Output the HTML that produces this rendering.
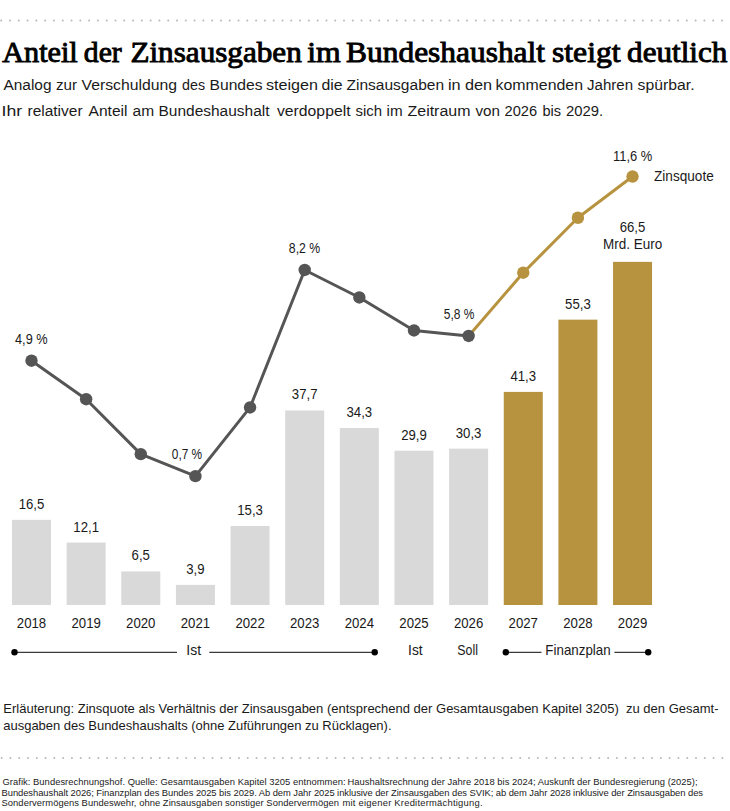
<!DOCTYPE html><html><head><meta charset="utf-8"><style>html,body{margin:0;padding:0;background:#fff;width:730px;height:811px;overflow:hidden}svg{display:block}</style></head><body><svg class="s" width="730" height="811" viewBox="0 0 730 811">
<circle cx="1.20" cy="20.5" r="1" fill="#b8b8b8"/><circle cx="9.99" cy="20.5" r="1" fill="#b8b8b8"/><circle cx="18.78" cy="20.5" r="1" fill="#b8b8b8"/><circle cx="27.57" cy="20.5" r="1" fill="#b8b8b8"/><circle cx="36.36" cy="20.5" r="1" fill="#b8b8b8"/><circle cx="45.15" cy="20.5" r="1" fill="#b8b8b8"/><circle cx="53.94" cy="20.5" r="1" fill="#b8b8b8"/><circle cx="62.73" cy="20.5" r="1" fill="#b8b8b8"/><circle cx="71.52" cy="20.5" r="1" fill="#b8b8b8"/><circle cx="80.31" cy="20.5" r="1" fill="#b8b8b8"/><circle cx="89.10" cy="20.5" r="1" fill="#b8b8b8"/><circle cx="97.89" cy="20.5" r="1" fill="#b8b8b8"/><circle cx="106.68" cy="20.5" r="1" fill="#b8b8b8"/><circle cx="115.47" cy="20.5" r="1" fill="#b8b8b8"/><circle cx="124.26" cy="20.5" r="1" fill="#b8b8b8"/><circle cx="133.05" cy="20.5" r="1" fill="#b8b8b8"/><circle cx="141.84" cy="20.5" r="1" fill="#b8b8b8"/><circle cx="150.63" cy="20.5" r="1" fill="#b8b8b8"/><circle cx="159.42" cy="20.5" r="1" fill="#b8b8b8"/><circle cx="168.21" cy="20.5" r="1" fill="#b8b8b8"/><circle cx="177.00" cy="20.5" r="1" fill="#b8b8b8"/><circle cx="185.79" cy="20.5" r="1" fill="#b8b8b8"/><circle cx="194.58" cy="20.5" r="1" fill="#b8b8b8"/><circle cx="203.37" cy="20.5" r="1" fill="#b8b8b8"/><circle cx="212.16" cy="20.5" r="1" fill="#b8b8b8"/><circle cx="220.95" cy="20.5" r="1" fill="#b8b8b8"/><circle cx="229.74" cy="20.5" r="1" fill="#b8b8b8"/><circle cx="238.53" cy="20.5" r="1" fill="#b8b8b8"/><circle cx="247.32" cy="20.5" r="1" fill="#b8b8b8"/><circle cx="256.11" cy="20.5" r="1" fill="#b8b8b8"/><circle cx="264.90" cy="20.5" r="1" fill="#b8b8b8"/><circle cx="273.69" cy="20.5" r="1" fill="#b8b8b8"/><circle cx="282.48" cy="20.5" r="1" fill="#b8b8b8"/><circle cx="291.27" cy="20.5" r="1" fill="#b8b8b8"/><circle cx="300.06" cy="20.5" r="1" fill="#b8b8b8"/><circle cx="308.85" cy="20.5" r="1" fill="#b8b8b8"/><circle cx="317.64" cy="20.5" r="1" fill="#b8b8b8"/><circle cx="326.43" cy="20.5" r="1" fill="#b8b8b8"/><circle cx="335.22" cy="20.5" r="1" fill="#b8b8b8"/><circle cx="344.01" cy="20.5" r="1" fill="#b8b8b8"/><circle cx="352.80" cy="20.5" r="1" fill="#b8b8b8"/><circle cx="361.59" cy="20.5" r="1" fill="#b8b8b8"/><circle cx="370.38" cy="20.5" r="1" fill="#b8b8b8"/><circle cx="379.17" cy="20.5" r="1" fill="#b8b8b8"/><circle cx="387.96" cy="20.5" r="1" fill="#b8b8b8"/><circle cx="396.75" cy="20.5" r="1" fill="#b8b8b8"/><circle cx="405.54" cy="20.5" r="1" fill="#b8b8b8"/><circle cx="414.33" cy="20.5" r="1" fill="#b8b8b8"/><circle cx="423.12" cy="20.5" r="1" fill="#b8b8b8"/><circle cx="431.91" cy="20.5" r="1" fill="#b8b8b8"/><circle cx="440.70" cy="20.5" r="1" fill="#b8b8b8"/><circle cx="449.49" cy="20.5" r="1" fill="#b8b8b8"/><circle cx="458.28" cy="20.5" r="1" fill="#b8b8b8"/><circle cx="467.07" cy="20.5" r="1" fill="#b8b8b8"/><circle cx="475.86" cy="20.5" r="1" fill="#b8b8b8"/><circle cx="484.65" cy="20.5" r="1" fill="#b8b8b8"/><circle cx="493.44" cy="20.5" r="1" fill="#b8b8b8"/><circle cx="502.23" cy="20.5" r="1" fill="#b8b8b8"/><circle cx="511.02" cy="20.5" r="1" fill="#b8b8b8"/><circle cx="519.81" cy="20.5" r="1" fill="#b8b8b8"/><circle cx="528.60" cy="20.5" r="1" fill="#b8b8b8"/><circle cx="537.39" cy="20.5" r="1" fill="#b8b8b8"/><circle cx="546.18" cy="20.5" r="1" fill="#b8b8b8"/><circle cx="554.97" cy="20.5" r="1" fill="#b8b8b8"/><circle cx="563.76" cy="20.5" r="1" fill="#b8b8b8"/><circle cx="572.55" cy="20.5" r="1" fill="#b8b8b8"/><circle cx="581.34" cy="20.5" r="1" fill="#b8b8b8"/><circle cx="590.13" cy="20.5" r="1" fill="#b8b8b8"/><circle cx="598.92" cy="20.5" r="1" fill="#b8b8b8"/><circle cx="607.71" cy="20.5" r="1" fill="#b8b8b8"/><circle cx="616.50" cy="20.5" r="1" fill="#b8b8b8"/><circle cx="625.29" cy="20.5" r="1" fill="#b8b8b8"/><circle cx="634.08" cy="20.5" r="1" fill="#b8b8b8"/><circle cx="642.87" cy="20.5" r="1" fill="#b8b8b8"/><circle cx="651.66" cy="20.5" r="1" fill="#b8b8b8"/><circle cx="660.45" cy="20.5" r="1" fill="#b8b8b8"/><circle cx="669.24" cy="20.5" r="1" fill="#b8b8b8"/><circle cx="678.03" cy="20.5" r="1" fill="#b8b8b8"/><circle cx="686.82" cy="20.5" r="1" fill="#b8b8b8"/><circle cx="695.61" cy="20.5" r="1" fill="#b8b8b8"/><circle cx="704.40" cy="20.5" r="1" fill="#b8b8b8"/><circle cx="713.19" cy="20.5" r="1" fill="#b8b8b8"/><circle cx="721.98" cy="20.5" r="1" fill="#b8b8b8"/>
<circle cx="1.60" cy="758" r="1" fill="#b8b8b8"/><circle cx="10.39" cy="758" r="1" fill="#b8b8b8"/><circle cx="19.18" cy="758" r="1" fill="#b8b8b8"/><circle cx="27.97" cy="758" r="1" fill="#b8b8b8"/><circle cx="36.76" cy="758" r="1" fill="#b8b8b8"/><circle cx="45.55" cy="758" r="1" fill="#b8b8b8"/><circle cx="54.34" cy="758" r="1" fill="#b8b8b8"/><circle cx="63.13" cy="758" r="1" fill="#b8b8b8"/><circle cx="71.92" cy="758" r="1" fill="#b8b8b8"/><circle cx="80.71" cy="758" r="1" fill="#b8b8b8"/><circle cx="89.50" cy="758" r="1" fill="#b8b8b8"/><circle cx="98.29" cy="758" r="1" fill="#b8b8b8"/><circle cx="107.08" cy="758" r="1" fill="#b8b8b8"/><circle cx="115.87" cy="758" r="1" fill="#b8b8b8"/><circle cx="124.66" cy="758" r="1" fill="#b8b8b8"/><circle cx="133.45" cy="758" r="1" fill="#b8b8b8"/><circle cx="142.24" cy="758" r="1" fill="#b8b8b8"/><circle cx="151.03" cy="758" r="1" fill="#b8b8b8"/><circle cx="159.82" cy="758" r="1" fill="#b8b8b8"/><circle cx="168.61" cy="758" r="1" fill="#b8b8b8"/><circle cx="177.40" cy="758" r="1" fill="#b8b8b8"/><circle cx="186.19" cy="758" r="1" fill="#b8b8b8"/><circle cx="194.98" cy="758" r="1" fill="#b8b8b8"/><circle cx="203.77" cy="758" r="1" fill="#b8b8b8"/><circle cx="212.56" cy="758" r="1" fill="#b8b8b8"/><circle cx="221.35" cy="758" r="1" fill="#b8b8b8"/><circle cx="230.14" cy="758" r="1" fill="#b8b8b8"/><circle cx="238.93" cy="758" r="1" fill="#b8b8b8"/><circle cx="247.72" cy="758" r="1" fill="#b8b8b8"/><circle cx="256.51" cy="758" r="1" fill="#b8b8b8"/><circle cx="265.30" cy="758" r="1" fill="#b8b8b8"/><circle cx="274.09" cy="758" r="1" fill="#b8b8b8"/><circle cx="282.88" cy="758" r="1" fill="#b8b8b8"/><circle cx="291.67" cy="758" r="1" fill="#b8b8b8"/><circle cx="300.46" cy="758" r="1" fill="#b8b8b8"/><circle cx="309.25" cy="758" r="1" fill="#b8b8b8"/><circle cx="318.04" cy="758" r="1" fill="#b8b8b8"/><circle cx="326.83" cy="758" r="1" fill="#b8b8b8"/><circle cx="335.62" cy="758" r="1" fill="#b8b8b8"/><circle cx="344.41" cy="758" r="1" fill="#b8b8b8"/><circle cx="353.20" cy="758" r="1" fill="#b8b8b8"/><circle cx="361.99" cy="758" r="1" fill="#b8b8b8"/><circle cx="370.78" cy="758" r="1" fill="#b8b8b8"/><circle cx="379.57" cy="758" r="1" fill="#b8b8b8"/><circle cx="388.36" cy="758" r="1" fill="#b8b8b8"/><circle cx="397.15" cy="758" r="1" fill="#b8b8b8"/><circle cx="405.94" cy="758" r="1" fill="#b8b8b8"/><circle cx="414.73" cy="758" r="1" fill="#b8b8b8"/><circle cx="423.52" cy="758" r="1" fill="#b8b8b8"/><circle cx="432.31" cy="758" r="1" fill="#b8b8b8"/><circle cx="441.10" cy="758" r="1" fill="#b8b8b8"/><circle cx="449.89" cy="758" r="1" fill="#b8b8b8"/><circle cx="458.68" cy="758" r="1" fill="#b8b8b8"/><circle cx="467.47" cy="758" r="1" fill="#b8b8b8"/><circle cx="476.26" cy="758" r="1" fill="#b8b8b8"/><circle cx="485.05" cy="758" r="1" fill="#b8b8b8"/><circle cx="493.84" cy="758" r="1" fill="#b8b8b8"/><circle cx="502.63" cy="758" r="1" fill="#b8b8b8"/><circle cx="511.42" cy="758" r="1" fill="#b8b8b8"/><circle cx="520.21" cy="758" r="1" fill="#b8b8b8"/><circle cx="529.00" cy="758" r="1" fill="#b8b8b8"/><circle cx="537.79" cy="758" r="1" fill="#b8b8b8"/><circle cx="546.58" cy="758" r="1" fill="#b8b8b8"/><circle cx="555.37" cy="758" r="1" fill="#b8b8b8"/><circle cx="564.16" cy="758" r="1" fill="#b8b8b8"/><circle cx="572.95" cy="758" r="1" fill="#b8b8b8"/><circle cx="581.74" cy="758" r="1" fill="#b8b8b8"/><circle cx="590.53" cy="758" r="1" fill="#b8b8b8"/><circle cx="599.32" cy="758" r="1" fill="#b8b8b8"/><circle cx="608.11" cy="758" r="1" fill="#b8b8b8"/><circle cx="616.90" cy="758" r="1" fill="#b8b8b8"/><circle cx="625.69" cy="758" r="1" fill="#b8b8b8"/><circle cx="634.48" cy="758" r="1" fill="#b8b8b8"/><circle cx="643.27" cy="758" r="1" fill="#b8b8b8"/><circle cx="652.06" cy="758" r="1" fill="#b8b8b8"/><circle cx="660.85" cy="758" r="1" fill="#b8b8b8"/><circle cx="669.64" cy="758" r="1" fill="#b8b8b8"/><circle cx="678.43" cy="758" r="1" fill="#b8b8b8"/><circle cx="687.22" cy="758" r="1" fill="#b8b8b8"/><circle cx="696.01" cy="758" r="1" fill="#b8b8b8"/><circle cx="704.80" cy="758" r="1" fill="#b8b8b8"/><circle cx="713.59" cy="758" r="1" fill="#b8b8b8"/><circle cx="722.38" cy="758" r="1" fill="#b8b8b8"/>
<text class="t" x="2.20" y="62" font-family="Liberation Serif" font-weight="normal" font-size="29" fill="#000" style="stroke:#000;stroke-width:0.9px" textLength="75.60" lengthAdjust="spacingAndGlyphs">Anteil</text>
<text class="t" x="83.80" y="62" font-family="Liberation Serif" font-weight="normal" font-size="29" fill="#000" style="stroke:#000;stroke-width:0.9px" textLength="37.90" lengthAdjust="spacingAndGlyphs">der</text>
<text class="t" x="130.40" y="62" font-family="Liberation Serif" font-weight="normal" font-size="29" fill="#000" style="stroke:#000;stroke-width:0.9px" textLength="171.40" lengthAdjust="spacingAndGlyphs">Zinsausgaben</text>
<text class="t" x="307.20" y="62" font-family="Liberation Serif" font-weight="normal" font-size="29" fill="#000" style="stroke:#000;stroke-width:0.9px" textLength="33.50" lengthAdjust="spacingAndGlyphs">im</text>
<text class="t" x="346.10" y="62" font-family="Liberation Serif" font-weight="normal" font-size="29" fill="#000" style="stroke:#000;stroke-width:0.9px" textLength="198.90" lengthAdjust="spacingAndGlyphs">Bundeshaushalt</text>
<text class="t" x="552.00" y="62" font-family="Liberation Serif" font-weight="normal" font-size="29" fill="#000" style="stroke:#000;stroke-width:0.9px" textLength="68.60" lengthAdjust="spacingAndGlyphs">steigt</text>
<text class="t" x="627.10" y="62" font-family="Liberation Serif" font-weight="normal" font-size="29" fill="#000" style="stroke:#000;stroke-width:0.9px" textLength="100.30" lengthAdjust="spacingAndGlyphs">deutlich</text>
<text class="sub" x="3.50" y="90" font-family="Liberation Sans" font-size="15.3" fill="#1a1a1a" textLength="48.01" lengthAdjust="spacingAndGlyphs">Analog</text>
<text class="sub" x="56.00" y="90" font-family="Liberation Sans" font-size="15.3" fill="#1a1a1a" textLength="21.03" lengthAdjust="spacingAndGlyphs">zur</text>
<text class="sub" x="81.50" y="90" font-family="Liberation Sans" font-size="15.3" fill="#1a1a1a" textLength="95.52" lengthAdjust="spacingAndGlyphs">Verschuldung</text>
<text class="sub" x="182.00" y="90" font-family="Liberation Sans" font-size="15.3" fill="#1a1a1a" textLength="23.04" lengthAdjust="spacingAndGlyphs">des</text>
<text class="sub" x="209.50" y="90" font-family="Liberation Sans" font-size="15.3" fill="#1a1a1a" textLength="53.10" lengthAdjust="spacingAndGlyphs">Bundes</text>
<text class="sub" x="266.00" y="90" font-family="Liberation Sans" font-size="15.3" fill="#1a1a1a" textLength="52.05" lengthAdjust="spacingAndGlyphs">steigen</text>
<text class="sub" x="321.50" y="90" font-family="Liberation Sans" font-size="15.3" fill="#1a1a1a" textLength="21.11" lengthAdjust="spacingAndGlyphs">die</text>
<text class="sub" x="346.50" y="90" font-family="Liberation Sans" font-size="15.3" fill="#1a1a1a" textLength="97.54" lengthAdjust="spacingAndGlyphs">Zinsausgaben</text>
<text class="sub" x="448.00" y="90" font-family="Liberation Sans" font-size="15.3" fill="#1a1a1a" textLength="12.66" lengthAdjust="spacingAndGlyphs">in</text>
<text class="sub" x="465.00" y="90" font-family="Liberation Sans" font-size="15.3" fill="#1a1a1a" textLength="27.14" lengthAdjust="spacingAndGlyphs">den</text>
<text class="sub" x="495.50" y="90" font-family="Liberation Sans" font-size="15.3" fill="#1a1a1a" textLength="87.54" lengthAdjust="spacingAndGlyphs">kommenden</text>
<text class="sub" x="587.00" y="90" font-family="Liberation Sans" font-size="15.3" fill="#1a1a1a" textLength="46.01" lengthAdjust="spacingAndGlyphs">Jahren</text>
<text class="sub" x="637.50" y="90" font-family="Liberation Sans" font-size="15.3" fill="#1a1a1a" textLength="57.03" lengthAdjust="spacingAndGlyphs">spürbar.</text>
<text class="sub" x="1.50" y="116" font-family="Liberation Sans" font-size="15.3" fill="#1a1a1a" textLength="20.61" lengthAdjust="spacingAndGlyphs">Ihr</text>
<text class="sub" x="27.50" y="116" font-family="Liberation Sans" font-size="15.3" fill="#1a1a1a" textLength="55.03" lengthAdjust="spacingAndGlyphs">relativer</text>
<text class="sub" x="88.50" y="116" font-family="Liberation Sans" font-size="15.3" fill="#1a1a1a" textLength="39.02" lengthAdjust="spacingAndGlyphs">Anteil</text>
<text class="sub" x="132.50" y="116" font-family="Liberation Sans" font-size="15.3" fill="#1a1a1a" textLength="21.58" lengthAdjust="spacingAndGlyphs">am</text>
<text class="sub" x="158.50" y="116" font-family="Liberation Sans" font-size="15.3" fill="#1a1a1a" textLength="111.01" lengthAdjust="spacingAndGlyphs">Bundeshaushalt</text>
<text class="sub" x="277.00" y="116" font-family="Liberation Sans" font-size="15.3" fill="#1a1a1a" textLength="73.51" lengthAdjust="spacingAndGlyphs">verdoppelt</text>
<text class="sub" x="355.50" y="116" font-family="Liberation Sans" font-size="15.3" fill="#1a1a1a" textLength="26.56" lengthAdjust="spacingAndGlyphs">sich</text>
<text class="sub" x="386.50" y="116" font-family="Liberation Sans" font-size="15.3" fill="#1a1a1a" textLength="16.10" lengthAdjust="spacingAndGlyphs">im</text>
<text class="sub" x="407.50" y="116" font-family="Liberation Sans" font-size="15.3" fill="#1a1a1a" textLength="63.02" lengthAdjust="spacingAndGlyphs">Zeitraum</text>
<text class="sub" x="475.50" y="116" font-family="Liberation Sans" font-size="15.3" fill="#1a1a1a" textLength="24.50" lengthAdjust="spacingAndGlyphs">von</text>
<text class="sub" x="504.50" y="116" font-family="Liberation Sans" font-size="15.3" fill="#1a1a1a" textLength="32.59" lengthAdjust="spacingAndGlyphs">2026</text>
<text class="sub" x="542.50" y="116" font-family="Liberation Sans" font-size="15.3" fill="#1a1a1a" textLength="18.62" lengthAdjust="spacingAndGlyphs">bis</text>
<text class="sub" x="566.00" y="116" font-family="Liberation Sans" font-size="15.3" fill="#1a1a1a" textLength="37.09" lengthAdjust="spacingAndGlyphs">2029.</text>
<rect x="12.00" y="519.86" width="39" height="85.14" fill="#d9d9d9"/>
<text class="lab" transform="translate(31.50 508.86) scale(1 1.045)" text-anchor="middle" font-family="Liberation Sans" font-size="13.2" fill="#1a1a1a">16,5</text>
<text class="lab" transform="translate(31.50 628.30) scale(1 1.045)" text-anchor="middle" font-family="Liberation Sans" font-size="13.2" fill="#1a1a1a">2018</text>
<rect x="66.64" y="542.56" width="39" height="62.44" fill="#d9d9d9"/>
<text class="lab" transform="translate(86.14 531.56) scale(1 1.045)" text-anchor="middle" font-family="Liberation Sans" font-size="13.2" fill="#1a1a1a">12,1</text>
<text class="lab" transform="translate(86.14 628.30) scale(1 1.045)" text-anchor="middle" font-family="Liberation Sans" font-size="13.2" fill="#1a1a1a">2019</text>
<rect x="121.28" y="571.46" width="39" height="33.54" fill="#d9d9d9"/>
<text class="lab" transform="translate(140.78 560.46) scale(1 1.045)" text-anchor="middle" font-family="Liberation Sans" font-size="13.2" fill="#1a1a1a">6,5</text>
<text class="lab" transform="translate(140.78 628.30) scale(1 1.045)" text-anchor="middle" font-family="Liberation Sans" font-size="13.2" fill="#1a1a1a">2020</text>
<rect x="175.92" y="584.88" width="39" height="20.12" fill="#d9d9d9"/>
<text class="lab" transform="translate(195.42 573.88) scale(1 1.045)" text-anchor="middle" font-family="Liberation Sans" font-size="13.2" fill="#1a1a1a">3,9</text>
<text class="lab" transform="translate(195.42 628.30) scale(1 1.045)" text-anchor="middle" font-family="Liberation Sans" font-size="13.2" fill="#1a1a1a">2021</text>
<rect x="230.56" y="526.05" width="39" height="78.95" fill="#d9d9d9"/>
<text class="lab" transform="translate(250.06 515.05) scale(1 1.045)" text-anchor="middle" font-family="Liberation Sans" font-size="13.2" fill="#1a1a1a">15,3</text>
<text class="lab" transform="translate(250.06 628.30) scale(1 1.045)" text-anchor="middle" font-family="Liberation Sans" font-size="13.2" fill="#1a1a1a">2022</text>
<rect x="285.20" y="410.47" width="39" height="194.53" fill="#d9d9d9"/>
<text class="lab" transform="translate(304.70 399.47) scale(1 1.045)" text-anchor="middle" font-family="Liberation Sans" font-size="13.2" fill="#1a1a1a">37,7</text>
<text class="lab" transform="translate(304.70 628.30) scale(1 1.045)" text-anchor="middle" font-family="Liberation Sans" font-size="13.2" fill="#1a1a1a">2023</text>
<rect x="339.84" y="428.01" width="39" height="176.99" fill="#d9d9d9"/>
<text class="lab" transform="translate(359.34 417.01) scale(1 1.045)" text-anchor="middle" font-family="Liberation Sans" font-size="13.2" fill="#1a1a1a">34,3</text>
<text class="lab" transform="translate(359.34 628.30) scale(1 1.045)" text-anchor="middle" font-family="Liberation Sans" font-size="13.2" fill="#1a1a1a">2024</text>
<rect x="394.48" y="450.72" width="39" height="154.28" fill="#d9d9d9"/>
<text class="lab" transform="translate(413.98 439.72) scale(1 1.045)" text-anchor="middle" font-family="Liberation Sans" font-size="13.2" fill="#1a1a1a">29,9</text>
<text class="lab" transform="translate(413.98 628.30) scale(1 1.045)" text-anchor="middle" font-family="Liberation Sans" font-size="13.2" fill="#1a1a1a">2025</text>
<rect x="449.12" y="448.65" width="39" height="156.35" fill="#d9d9d9"/>
<text class="lab" transform="translate(468.62 437.65) scale(1 1.045)" text-anchor="middle" font-family="Liberation Sans" font-size="13.2" fill="#1a1a1a">30,3</text>
<text class="lab" transform="translate(468.62 628.30) scale(1 1.045)" text-anchor="middle" font-family="Liberation Sans" font-size="13.2" fill="#1a1a1a">2026</text>
<rect x="503.76" y="391.89" width="39" height="213.11" fill="#b7933f"/>
<text class="lab" transform="translate(523.26 380.89) scale(1 1.045)" text-anchor="middle" font-family="Liberation Sans" font-size="13.2" fill="#1a1a1a">41,3</text>
<text class="lab" transform="translate(523.26 628.30) scale(1 1.045)" text-anchor="middle" font-family="Liberation Sans" font-size="13.2" fill="#1a1a1a">2027</text>
<rect x="558.40" y="319.65" width="39" height="285.35" fill="#b7933f"/>
<text class="lab" transform="translate(577.90 308.65) scale(1 1.045)" text-anchor="middle" font-family="Liberation Sans" font-size="13.2" fill="#1a1a1a">55,3</text>
<text class="lab" transform="translate(577.90 628.30) scale(1 1.045)" text-anchor="middle" font-family="Liberation Sans" font-size="13.2" fill="#1a1a1a">2028</text>
<rect x="613.04" y="261.86" width="39" height="343.14" fill="#b7933f"/>
<text class="lab" transform="translate(632.54 231.86) scale(1 1.045)" text-anchor="middle" font-family="Liberation Sans" font-size="13.2" fill="#1a1a1a">66,5</text>
<text class="lab" transform="translate(632.54 249.06) scale(1 1.045)" text-anchor="middle" font-family="Liberation Sans" font-size="13.2" fill="#1a1a1a" textLength="59.3" lengthAdjust="spacingAndGlyphs">Mrd. Euro</text>
<text class="lab" transform="translate(632.54 628.30) scale(1 1.045)" text-anchor="middle" font-family="Liberation Sans" font-size="13.2" fill="#1a1a1a">2029</text>
<polyline points="468.62,335.96 523.26,272.73 577.90,217.75 632.54,176.52" fill="none" stroke="#b7933f" stroke-width="3" stroke-linejoin="round"/>
<polyline points="31.50,360.70 86.14,399.19 140.78,454.16 195.42,476.16 250.06,407.43 304.70,269.98 359.34,297.47 413.98,330.46 468.62,335.96" fill="none" stroke="#555555" stroke-width="3" stroke-linejoin="round"/>
<circle cx="31.50" cy="360.70" r="6.2" fill="#555555"/>
<circle cx="86.14" cy="399.19" r="6.2" fill="#555555"/>
<circle cx="140.78" cy="454.16" r="6.2" fill="#555555"/>
<circle cx="195.42" cy="476.16" r="6.2" fill="#555555"/>
<circle cx="250.06" cy="407.43" r="6.2" fill="#555555"/>
<circle cx="304.70" cy="269.98" r="6.2" fill="#555555"/>
<circle cx="359.34" cy="297.47" r="6.2" fill="#555555"/>
<circle cx="413.98" cy="330.46" r="6.2" fill="#555555"/>
<circle cx="468.62" cy="335.96" r="6.2" fill="#555555"/>
<circle cx="523.26" cy="272.73" r="6.2" fill="#b7933f"/>
<circle cx="577.90" cy="217.75" r="6.2" fill="#b7933f"/>
<circle cx="632.54" cy="176.52" r="6.2" fill="#b7933f"/>
<text class="lab" transform="translate(15.00 344.00) scale(1 1.045)" text-anchor="start" font-family="Liberation Sans" font-size="13.2" fill="#1a1a1a" textLength="32.6" lengthAdjust="spacingAndGlyphs">4,9 %</text>
<text class="lab" transform="translate(288.80 253.40) scale(1 1.045)" text-anchor="start" font-family="Liberation Sans" font-size="13.2" fill="#1a1a1a" textLength="31.4" lengthAdjust="spacingAndGlyphs">8,2 %</text>
<text class="lab" transform="translate(171.80 458.80) scale(1 1.045)" text-anchor="start" font-family="Liberation Sans" font-size="13.2" fill="#1a1a1a" textLength="30.4" lengthAdjust="spacingAndGlyphs">0,7 %</text>
<text class="lab" transform="translate(443.80 319.10) scale(1 1.045)" text-anchor="start" font-family="Liberation Sans" font-size="13.2" fill="#1a1a1a" textLength="30.7" lengthAdjust="spacingAndGlyphs">5,8 %</text>
<text class="lab" transform="translate(613.00 160.50) scale(1 1.045)" text-anchor="start" font-family="Liberation Sans" font-size="13.2" fill="#1a1a1a" textLength="39.3" lengthAdjust="spacingAndGlyphs">11,6 %</text>
<text class="lab" transform="translate(654.00 181.30) scale(1 1.045)" text-anchor="start" font-family="Liberation Sans" font-size="13.2" fill="#1a1a1a" textLength="59.8" lengthAdjust="spacingAndGlyphs">Zinsquote</text>
<line x1="14.5" y1="652.3" x2="177" y2="652.3" stroke="#3a3a3a" stroke-width="1.2"/>
<line x1="209.3" y1="652.3" x2="374.7" y2="652.3" stroke="#3a3a3a" stroke-width="1.2"/>
<circle cx="14.5" cy="652.3" r="3.2" fill="#000"/>
<circle cx="374.7" cy="652.3" r="3.2" fill="#000"/>
<text class="lab" transform="translate(193.70 654.50) scale(1 1.045)" text-anchor="middle" font-family="Liberation Sans" font-size="13.2" fill="#1a1a1a" textLength="14.8" lengthAdjust="spacingAndGlyphs">Ist</text>
<text class="lab" transform="translate(415.40 654.50) scale(1 1.045)" text-anchor="middle" font-family="Liberation Sans" font-size="13.2" fill="#1a1a1a" textLength="14.6" lengthAdjust="spacingAndGlyphs">Ist</text>
<text class="lab" transform="translate(467.60 654.50) scale(1 1.045)" text-anchor="middle" font-family="Liberation Sans" font-size="13.2" fill="#1a1a1a" textLength="20.6" lengthAdjust="spacingAndGlyphs">Soll</text>
<line x1="505.8" y1="652.3" x2="541.5" y2="652.3" stroke="#3a3a3a" stroke-width="1.2"/>
<line x1="614.4" y1="652.3" x2="648.2" y2="652.3" stroke="#3a3a3a" stroke-width="1.2"/>
<circle cx="505.8" cy="652.3" r="3.2" fill="#000"/>
<circle cx="648.2" cy="652.3" r="3.2" fill="#000"/>
<text class="lab" transform="translate(578.00 654.50) scale(1 1.045)" text-anchor="middle" font-family="Liberation Sans" font-size="13.2" fill="#1a1a1a" textLength="65.3" lengthAdjust="spacingAndGlyphs">Finanzplan</text>
<text class="e" x="3.3" y="713.1" font-family="Liberation Sans" font-size="13" fill="#1a1a1a" textLength="715.2" lengthAdjust="spacing" xml:space="preserve">Erläuterung: Zinsquote als Verhältnis der Zinsausgaben (entsprechend der Gesamtausgaben Kapitel 3205)  zu den Gesamt-</text>
<text class="e" x="3.3" y="729.9" font-family="Liberation Sans" font-size="13" fill="#1a1a1a" textLength="388.2" lengthAdjust="spacing">ausgaben des Bundeshaushalts (ohne Zuführungen zu Rücklagen).</text>
<text class="f" x="2.50" y="785.4" font-family="Liberation Sans" font-size="9.4" fill="#1a1a1a" textLength="343.00" lengthAdjust="spacing">Grafik: Bundesrechnungshof. Quelle: Gesamtausgaben Kapitel 3205 entnommen:</text>
<text class="f" x="347.50" y="785.4" font-family="Liberation Sans" font-size="9.4" fill="#1a1a1a" textLength="350.00" lengthAdjust="spacing">Haushaltsrechnung der Jahre 2018 bis 2024; Auskunft der Bundesregierung (2025);</text>
<text class="f" x="1.50" y="796.0" font-family="Liberation Sans" font-size="9.4" fill="#1a1a1a" textLength="701.50" lengthAdjust="spacing">Bundeshaushalt 2026; Finanzplan des Bundes 2025 bis 2029. Ab dem Jahr 2025 inklusive der Zinsausgaben des SVIK; ab dem Jahr 2028 inklusive der Zinsausgaben des</text>
<text class="f" x="1.50" y="806.4" font-family="Liberation Sans" font-size="9.4" fill="#1a1a1a" textLength="337.50" lengthAdjust="spacing">Sondervermögens Bundeswehr, ohne Zinsausgaben sonstiger Sondervermögen</text>
<text class="f" x="342.50" y="806.4" font-family="Liberation Sans" font-size="9.4" fill="#1a1a1a" textLength="140.00" lengthAdjust="spacing">mit eigener Kreditermächtigung.</text>
</svg></body></html>
